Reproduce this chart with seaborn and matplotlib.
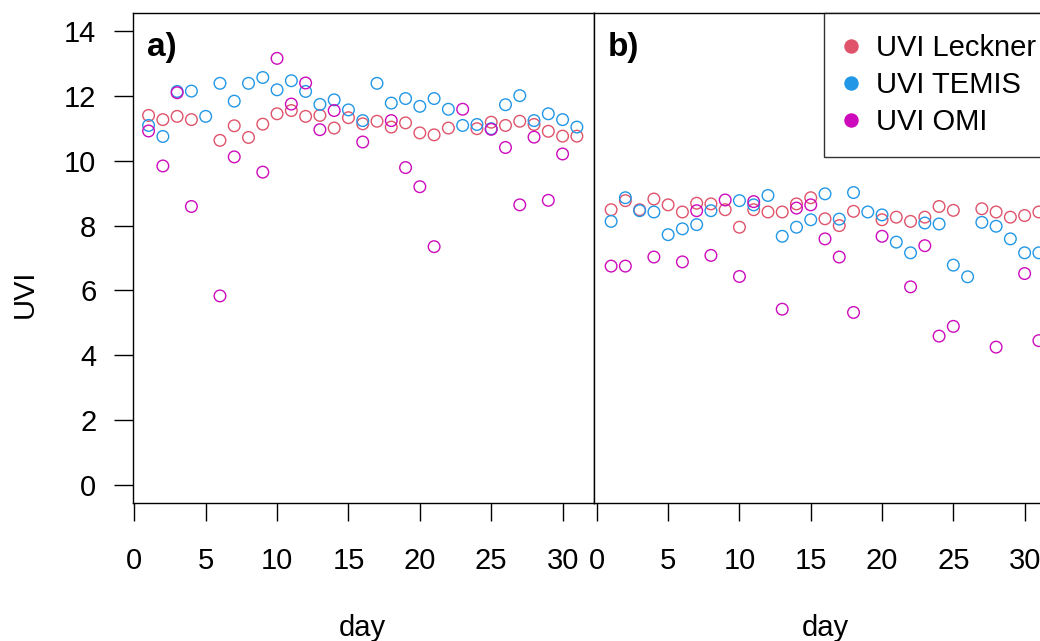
import numpy as np
import pandas as pd
import matplotlib
matplotlib.use("Agg")
import matplotlib.pyplot as plt
from matplotlib.lines import Line2D
import seaborn as sns

nan = np.nan

# Daily UV index, month a) and month b)
days = list(range(1, 32))

leckner_a = [11.40, 11.27, 11.37, 11.27, nan, 10.63, 11.08, 10.72, 11.13, 11.45,
             11.55, 11.37, 11.40, 11.01, 11.33, 11.14, 11.22, 11.04, 11.17, 10.86,
             10.80, 11.01, nan, 10.99, 11.19, 11.09, 11.22, 11.12, 10.91, 10.76, 10.76]
temis_a = [11.09, 10.75, 12.14, 12.15, 11.37, 12.39, 11.84, 12.39, 12.57, 12.19,
           12.47, 12.14, 11.74, 11.88, 11.57, 11.24, 12.39, 11.78, 11.92, 11.68,
           11.92, 11.59, 11.09, 11.12, 10.99, 11.73, 12.01, 11.24, 11.45, 11.27, 11.04]
omi_a = [10.92, 9.84, 12.10, 8.59, nan, 5.83, 10.12, nan, 9.65, 13.16,
         11.75, 12.40, 10.96, 11.55, nan, 10.58, nan, 11.24, 9.79, 9.20,
         7.35, nan, 11.59, nan, 10.97, 10.41, 8.64, 10.73, 8.78, 10.21, nan]

leckner_b = [8.49, 8.77, 8.49, 8.82, 8.64, 8.42, 8.69, 8.67, 8.49, 7.95,
             8.49, 8.42, 8.42, 8.67, 8.86, 8.21, 8.00, 8.44, nan, 8.18,
             8.26, 8.13, 8.26, 8.59, 8.47, nan, 8.52, 8.42, 8.26, 8.31, 8.42]
temis_b = [8.13, 8.86, 8.46, 8.42, 7.72, 7.90, 8.03, 8.46, nan, 8.77,
           8.64, 8.93, 7.67, 7.95, 8.18, 8.98, 8.20, 9.02, 8.42, 8.33,
           7.49, 7.16, 8.08, 8.05, 6.78, 6.42, 8.10, 7.98, 7.59, 7.16, 7.16]
omi_b = [6.75, 6.75, nan, 7.03, nan, 6.88, 8.46, 7.08, 8.79, 6.43,
         8.74, nan, 5.42, 8.54, 8.64, 7.59, 7.03, 5.32, nan, 7.67,
         nan, 6.11, 7.38, 4.59, 4.89, nan, nan, 4.25, nan, 6.52, 4.45]

series_names = ["UVI Leckner", "UVI TEMIS", "UVI OMI"]
series_colors = ["#DF536B", "#2297E6", "#CD0BBC"]
panel_labels = ["a)", "b)"]
x_ticks = [0, 5, 10, 15, 20, 25, 30]
y_ticks = [0, 2, 4, 6, 8, 10, 12, 14]


def long_table(values_by_series):
    frames = []
    for name, vals in zip(series_names, values_by_series):
        frames.append(pd.DataFrame({"day": days, "uvi": vals, "series": name}))
    return pd.concat(frames, ignore_index=True).dropna()


panels = [long_table([leckner_a, temis_a, omi_a]),
          long_table([leckner_b, temis_b, omi_b])]

sns.set_style("white")
plt.rcParams["font.family"] = ["Liberation Sans", "DejaVu Sans"]
plt.rcParams["font.size"] = 21
plt.rcParams["text.color"] = "black"
plt.rcParams["axes.labelcolor"] = "black"
plt.rcParams["xtick.color"] = "black"
plt.rcParams["ytick.color"] = "black"

W, H = 1040, 641
fig = plt.figure(figsize=(W / 100, H / 100), dpi=100)


def box(l, t, r, b):
    return [l / W, 1 - b / H, (r - l) / W, (b - t) / H]


# right panel runs past the figure edge, so it is clipped there
ax_a = fig.add_axes(box(133.3, 13, 594, 503))
ax_b = fig.add_axes(box(594, 13, 1056, 503))
palette = dict(zip(series_names, series_colors))

for ax, data, lab, xlim in zip([ax_a, ax_b], panels, panel_labels,
                               [(-0.07, 32.2), (-0.2, 32.2)]):
    sns.scatterplot(data=data, x="day", y="uvi", hue="series", palette=palette,
                    hue_order=series_names, s=70, linewidth=1.0, legend=False,
                    ax=ax, zorder=3)
    # open circles: move the hue colours onto the marker edges
    for coll in ax.collections:
        fc = coll.get_facecolors()
        coll.set_edgecolors(fc)
        coll.set_facecolors("none")
        coll.set_linewidths(1.0)
    ax.set_xlim(*xlim)
    ax.set_ylim(-0.56, 14.56)
    ax.set_xticks(x_ticks)
    ax.set_xlabel("")
    ax.set_ylabel("")
    for sp in ax.spines.values():
        sp.set_visible(True)
        sp.set_color("black")
        sp.set_linewidth(1.0)
    ax.tick_params(axis="x", direction="out", length=13, width=1.0,
                   pad=19, labelsize=21, color="black", labelcolor="black",
                   bottom=True)
    ax.text(0.029, 0.912, lab, transform=ax.transAxes, fontsize=24,
            fontweight="bold", ha="left", va="baseline", color="black")

ax_a.set_yticks(y_ticks)
ax_a.tick_params(axis="y", direction="out", length=13.5, width=1.0,
                 pad=13, labelsize=21, color="black", labelcolor="black",
                 left=True)
ax_b.set_yticks([])

fig.text(25 / W, 1 - 294 / H, "UVI", rotation=90, ha="center", va="center",
         fontsize=21)
fig.text(362 / W, 1 - 628 / H, "day", ha="center", va="center", fontsize=21)
fig.text(825 / W, 1 - 628 / H, "day", ha="center", va="center", fontsize=21)

handles = [Line2D([], [], linestyle="none", marker="o", markersize=9.4,
                  markerfacecolor=c, markeredgecolor=c) for c in series_colors]
leg = fig.legend(handles, series_names, loc="upper left",
                 bbox_to_anchor=(824 / W, 1 - 12.7 / H), frameon=True,
                 fancybox=False, fontsize=21, borderpad=0.74, labelspacing=0.3,
                 handlelength=0.4, handletextpad=0.66, borderaxespad=0)
leg.get_frame().set_edgecolor("black")
leg.get_frame().set_linewidth(1.0)

fig.savefig("out.png", dpi=100)
